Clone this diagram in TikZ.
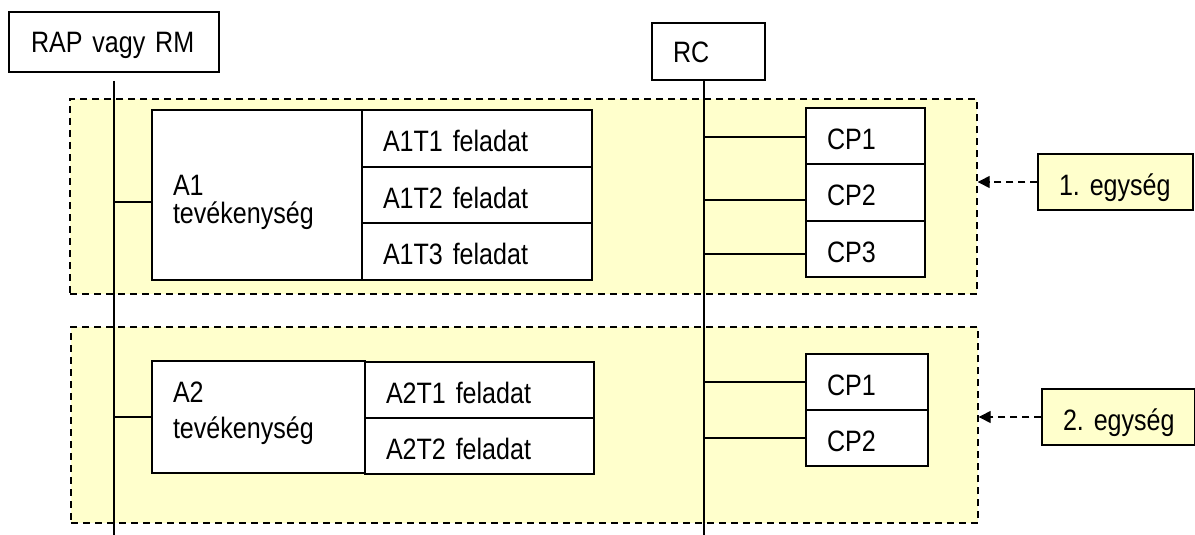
\documentclass[tikz,border=0pt]{standalone}
\usepackage{fontspec}
\setmainfont[FakeStretch=0.85,WordSpace=0.8]{Liberation Sans}
\usetikzlibrary{arrows.meta}
\definecolor{unitfill}{HTML}{FFFFCC}
\tikzset{
  box/.style={draw, fill=white, line width=1.2pt, inner xsep=21pt, inner ysep=0pt,
    align=left, font=\fontsize{29.5}{34}\selectfont\frenchspacing,
    text height=26pt, text depth=0pt},
  unit/.style={draw, fill=unitfill, line width=1.4pt, dash pattern=on 7pt off 5pt},
  tag/.style={box, fill=unitfill},
  life/.style={line width=1.6pt},
  link/.style={line width=1.6pt},
  pointer/.style={line width=1.4pt, dash pattern=on 7pt off 5pt, -{Triangle[length=12pt,width=12pt]}}
}
\begin{document}
\begin{tikzpicture}[x=1pt,y=-1pt]
\useasboundingbox (0,0) rectangle (1195,535);
% units
\node[unit, minimum width=907pt, minimum height=195pt] (u1) at (523.5,196.5) {};
\node[unit, minimum width=907pt, minimum height=196pt] (u2) at (524.5,425) {};
% heads
\node[box, minimum width=210pt, minimum height=60pt, text width=166pt, text height=22pt] (rap) at (114,42) {\mbox{RAP vagy RM}};
\node[box, minimum width=113pt, minimum height=57pt, text width=71pt, text height=23pt] (rc) at (708.5,51.5) {RC};
% unit 1
\node[box, minimum width=210pt, minimum height=170pt, text width=168pt, text height=20pt, text depth=20pt] (a1) at (257,195) {A1\\[-6pt]tevékenység};
\node[box, minimum width=230pt, minimum height=57pt, text width=188pt] (a1t1) at (477,138.5) {\mbox{A1T1 feladat}};
\node[box, minimum width=230pt, minimum height=56pt, text width=188pt] (a1t2) at (477,195) {\mbox{A1T2 feladat}};
\node[box, minimum width=230pt, minimum height=57pt, text width=188pt] (a1t3) at (477,251.5) {\mbox{A1T3 feladat}};
\node[box, minimum width=119pt, minimum height=56pt, text width=77pt] (cp11) at (865.5,136) {CP1};
\node[box, minimum width=119pt, minimum height=57pt, text width=77pt] (cp12) at (865.5,192.5) {CP2};
\node[box, minimum width=119pt, minimum height=56pt, text width=77pt] (cp13) at (865.5,249) {CP3};
\node[tag, minimum width=155pt, minimum height=56pt, text width=113pt] (e1) at (1115.5,182) {\mbox{1. egység}};
% unit 2
\node[box, minimum width=213pt, minimum height=112pt, text width=171pt, text height=10pt, text depth=40pt] (a2) at (258.5,417) {A2\\[2pt]tevékenység};
\node[box, minimum width=229pt, minimum height=56pt, text width=187pt] (a2t1) at (479.5,390) {\mbox{A2T1 feladat}};
\node[box, minimum width=229pt, minimum height=56pt, text width=187pt] (a2t2) at (479.5,446) {\mbox{A2T2 feladat}};
\node[box, minimum width=122pt, minimum height=56pt, text width=80pt] (cp21) at (867,382) {CP1};
\node[box, minimum width=122pt, minimum height=56pt, text width=80pt] (cp22) at (867,438) {CP2};
\node[tag, minimum width=153pt, minimum height=56pt, text width=111pt] (e2) at (1118.5,417) {\mbox{2. egység}};
% lifelines
\coordinate (raptop) at (114,81);
\coordinate (rapbot) at (114,535);
\coordinate (rcbot) at (704,535);
\coordinate (rctop) at (704,80);
\draw[life] (raptop) -- (rapbot);
\draw[life] (rctop) -- (rcbot);
% links
\draw[link] ([yshift=-7pt]a1.west) -- ([yshift=-7pt]a1.west -| raptop);
\draw[link] (a2.west) -- (a2.west -| raptop);
\draw[link] ([yshift=-1pt]cp11.west) -- ([yshift=-1pt]cp11.west -| rctop);
\draw[link] ([yshift=-7.5pt]cp12.west) -- ([yshift=-7.5pt]cp12.west -| rctop);
\draw[link] ([yshift=-5pt]cp13.west) -- ([yshift=-5pt]cp13.west -| rctop);
\draw[link] (cp21.west) -- (cp21.west -| rctop);
\draw[link] (cp22.west) -- (cp22.west -| rctop);
% pointers
\draw[pointer] (e1.west) -- (e1.west -| u1.east);
\draw[pointer] (e2.west) -- (e2.west -| u2.east);
\end{tikzpicture}
\end{document}
